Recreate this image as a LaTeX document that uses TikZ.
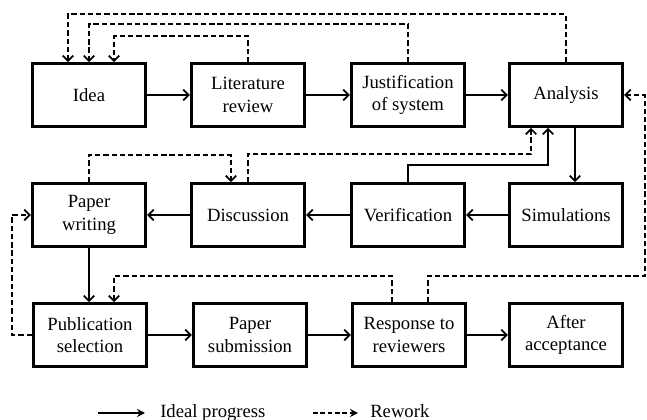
\documentclass[tikz,border=0pt]{standalone}
\usepackage{fontspec}
\setmainfont{Liberation Serif}
\newfontfamily\boxfont{Liberation Serif}
\usetikzlibrary{calc,positioning,arrows.meta}

\tikzset{
  stage/.style={draw, line width=2.2pt, rectangle, minimum width=85pt,
    minimum height=47pt, align=center, inner sep=2pt,
    font=\boxfont\fontsize{14}{17}\selectfont},
  ideal/.style={line width=1.3pt, -{Straight Barb[length=4pt,width=8pt]}},
  rework/.style={ideal, dash pattern=on 4pt off 2.2pt},
  legideal/.style={line width=1.1pt, -{Stealth[length=6pt,width=6pt]}},
  legrework/.style={legideal, dash pattern=on 3.5pt off 2pt},
  legtext/.style={anchor=base west, inner sep=0pt, font=\boxfont\fontsize{14}{17}\selectfont}
}

\begin{document}
\begin{tikzpicture}[x=0.75pt,y=-0.75pt]
  \useasboundingbox (0,0) rectangle (647,420);

  % first row
  \node (idea)     [stage] at (89,95)  {Idea};
  \node (litrev)   [stage] at (248,95) {Literature\\review};
  \node (justif)   [stage] at (408,95) {Justification\\of system};
  \node (analysis) [stage] at (566,95) {Analysis};

  % second row
  \node (writing)    [stage] at (89,215)  {Paper\\writing};
  \node (discussion) [stage] at (248,215) {Discussion};
  \node (verif)      [stage] at (408,215) {Verification};
  \node (sims)       [stage] at (566,215) {Simulations};

  % third row
  \node (pubsel)   [stage] at (90,335)  {Publication\\selection};
  \node (submit)   [stage] at (250,335) {Paper\\submission};
  \node (response) [stage] at (409,335) {Response to\\reviewers};
  \node (accept)   [stage] at (566,335) {After\\acceptance};

  % ideal progress
  \draw[ideal] (idea) -- (litrev);
  \draw[ideal] (litrev) -- (justif);
  \draw[ideal] (justif) -- (analysis);
  \draw[ideal] ($(analysis.south)+(9,0)$) -- ($(sims.north)+(9,0)$);
  \draw[ideal] (sims) -- (verif);
  \draw[ideal] (verif.north) -- ++(0,-17) -| ($(analysis.south)+(-18,0)$);
  \draw[ideal] (verif) -- (discussion);
  \draw[ideal] (discussion) -- (writing);
  \draw[ideal] (writing.south) -- ($(pubsel.north)+(-1,0)$);
  \draw[ideal] (pubsel) -- (submit);
  \draw[ideal] (submit) -- (response);
  \draw[ideal] (response) -- (accept);

  % rework
  \draw[rework] (analysis.north) -- ++(0,-48) -| ($(idea.north)+(-21,0)$);
  \draw[rework] (justif.north) -- ++(0,-38) -| (idea.north);
  \draw[rework] (litrev.north) -- ++(0,-26) -| ($(idea.north)+(25,0)$);
  \draw[rework] (writing.north) -- ++(0,-27) -| ($(discussion.north)+(-17,0)$);
  \draw[rework] (discussion.north) -- ++(0,-28) -| ($(analysis.south)+(-35,0)$);
  \draw[rework] (pubsel.west) -- ++(-20,0) |- (writing.west);
  \draw[rework] ($(response.north)+(-17,0)$) -- ++(0,-26) -| ($(pubsel.north)+(24,0)$);
  \draw[rework] ($(response.north)+(19,0)$) -- ++(0,-26) -- ++(217,0) |- (analysis.east);

  % legend
  \node (lgideal)  [legtext] at (160,418) {Ideal progress};
  \node (lgrework) [legtext] at (370,418) {Rework};
  \coordinate (lgia) at (98,413);
  \coordinate (lgra) at (313,413);
  \draw[legideal] (lgia) -- ++(47,0);
  \draw[legrework] (lgra) -- ++(45,0);

\end{tikzpicture}
\end{document}
